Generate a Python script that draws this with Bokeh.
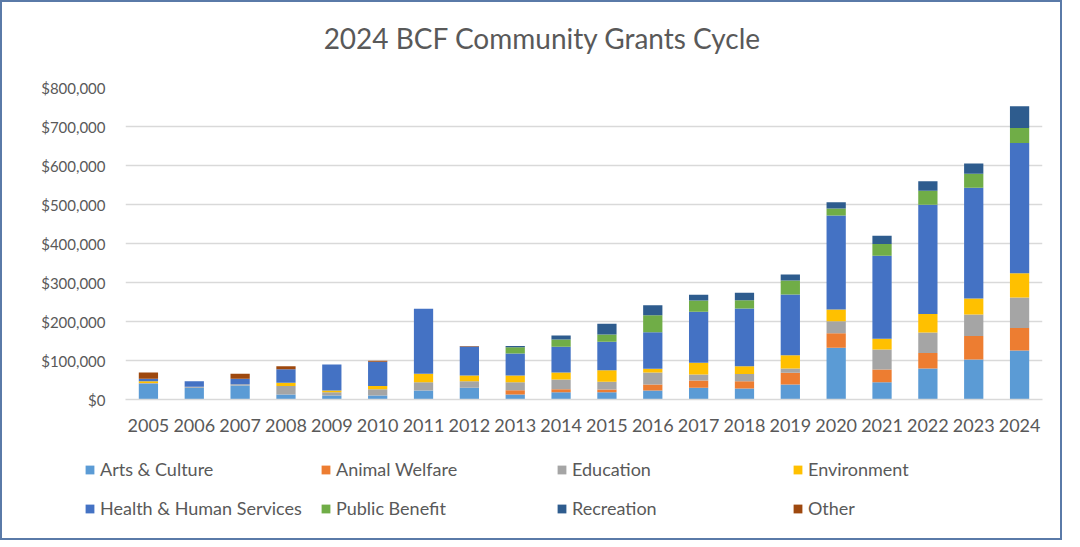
from bokeh.plotting import figure
from bokeh.models import FactorRange, NumeralTickFormatter, Legend, LegendItem, Label, Range1d
from bokeh.embed import file_html
from bokeh.resources import INLINE

years = [str(y) for y in range(2005, 2025)]
categories = ["Arts & Culture", "Animal Welfare", "Education", "Environment",
              "Health & Human Services", "Public Benefit", "Recreation", "Other"]
title_text = "2024 BCF Community Grants Cycle"

arts      = [40.5, 30, 36, 13, 10, 10, 23, 30, 12.8, 18.8, 18.8, 23, 30, 28, 38.5, 132.5, 44.4, 79.5, 102.6, 125.6]
animal    = [0, 0, 0, 0, 0, 0, 0, 0, 11, 7.7, 6.8, 15.4, 18.8, 18.8, 30, 37.6, 32.5, 40, 60, 58]
education = [2, 3, 3, 21.5, 8.6, 16, 21.4, 17, 20.5, 24.8, 19.7, 30.8, 15.4, 18.8, 11, 30.8, 51, 52, 55.6, 78]
environment = [4, 0, 0, 8.6, 4.3, 8.6, 21.4, 14.5, 17, 18, 30, 9.4, 30, 19.7, 34, 30, 28, 48, 41, 62]
health    = [7, 14, 14, 34.5, 67, 62.5, 166.7, 74.4, 56.4, 66, 72.6, 94, 130.8, 147.9, 155.6, 241, 213, 280, 283.7, 334]
public    = [0, 0, 0, 0, 0, 0, 0, 0, 16, 18.8, 18.8, 43.6, 29, 21.4, 36, 18, 30, 36, 36, 38.5]
recreation = [0, 0, 0, 0, 0, 0, 0, 0, 3.4, 10.2, 27.4, 25.6, 14.5, 18.8, 15.4, 16, 21, 24, 26.5, 56]
other     = [16, 0, 13, 7.8, 0, 2, 0, 1, 0, 0, 0, 0, 0, 0, 0, 0, 0, 0, 0, 0]

colors = ["#5B9BD5", "#ED7D31", "#A5A5A5", "#FFC000", "#4472C4", "#70AD47", "#2E5C8E", "#9E480E"]
keys = ["arts", "animal", "education", "environment", "health", "public", "recreation", "other"]
series = [arts, animal, education, environment, health, public, recreation, other]

data = {"year": years}
for k, s in zip(keys, series):
    data[k] = [v * 1000 for v in s]

FONT = "Lato"
TXT = "#595959"
W = 1058
BORDER = "2px solid #5a7aa8"

# ---- title strip ----
pt = figure(width=W, height=75, output_backend="svg", toolbar_location=None,
            x_range=(0, 1), y_range=(0, 1), min_border=0,
            x_axis_type=None, y_axis_type=None)
pt.grid.visible = False
pt.outline_line_color = None
pt.add_layout(Label(x=0.5085, y=0.533, text=title_text, text_align="center",
                    text_baseline="middle", text_font=FONT, text_font_size="28px",
                    text_color=TXT))
pt.styles = {"border-top": BORDER, "border-left": BORDER, "border-right": BORDER,
             "box-sizing": "content-box"}

# ---- chart ----
p = figure(x_range=FactorRange(*years), y_range=Range1d(0, 800000),
           width=W, height=368, output_backend="svg", toolbar_location=None,
           min_border_left=123, min_border_right=22, min_border_top=10, min_border_bottom=46)

p.vbar_stack(keys, x="year", width=0.42, color=colors, source=data, line_color=None)

p.yaxis.formatter = NumeralTickFormatter(format="$0,0")
p.yaxis.ticker = [0, 100000, 200000, 300000, 400000, 500000, 600000, 700000, 800000]
p.yaxis.axis_line_color = None
p.yaxis.major_tick_line_color = None
p.yaxis.minor_tick_line_color = None
p.yaxis.major_label_text_font = FONT
p.yaxis.major_label_text_font_size = "15px"
p.yaxis.major_label_text_color = TXT
p.yaxis.major_label_standoff = 14

p.xaxis.axis_line_color = "#d9d9d9"
p.xaxis.axis_line_width = 1.5
p.xaxis.major_tick_line_color = None
p.xaxis.minor_tick_line_color = None
p.xaxis.major_label_text_font = FONT
p.xaxis.major_label_text_font_size = "18px"
p.xaxis.major_label_text_color = TXT
p.xaxis.major_label_standoff = 13

p.xgrid.grid_line_color = None
p.ygrid.grid_line_color = "#d9d9d9"
p.ygrid.grid_line_width = 1.5
p.outline_line_color = None
p.x_range.range_padding = 0
p.styles = {"border-left": BORDER, "border-right": BORDER, "box-sizing": "content-box"}

# ---- legend strip ----
pl = figure(width=W, height=93, output_backend="svg", toolbar_location=None,
            x_range=(0, 1), y_range=(0, 1), min_border=0,
            x_axis_type=None, y_axis_type=None)
pl.grid.visible = False
pl.outline_line_color = None
nan = float("nan")
swatches = [pl.vbar(x=[0.5], top=[nan], width=0.1, color=c, line_color=None) for c in colors]
items = [LegendItem(label=c, renderers=[r]) for c, r in zip(categories, swatches)]
legend = Legend(items=items, ncols=4, orientation="horizontal", location=(82, 21),
                label_text_font=FONT, label_text_font_size="18px", label_text_color=TXT,
                glyph_width=11, glyph_height=11, label_standoff=5, label_width=203,
                spacing=17, border_line_color=None, background_fill_alpha=0,
                padding=0, margin=0, label_height=20)
pl.add_layout(legend, "center")
pl.styles = {"border-bottom": BORDER, "border-left": BORDER, "border-right": BORDER,
             "box-sizing": "content-box"}

open("out.html", "w").write(file_html([pt, p, pl], INLINE))
